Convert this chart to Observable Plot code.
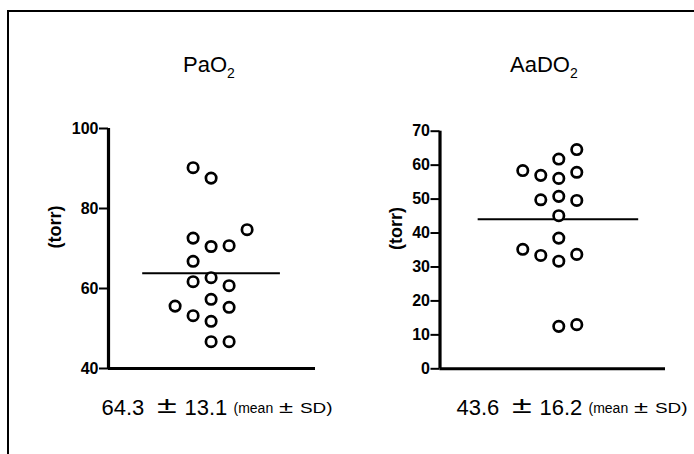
<!DOCTYPE html>
<html>
<head>
<meta charset="utf-8">
<script src="https://cdn.jsdelivr.net/npm/d3@7"></script>
<script src="https://cdn.jsdelivr.net/npm/@observablehq/plot@0.6"></script>
<style>
  html, body { margin: 0; padding: 0; background: #fff; }
  #wrap { position: relative; width: 694px; height: 454px; overflow: hidden; background: #fff; font-family: "Liberation Sans", Arial, sans-serif; color: #000; }
  .frame { position: absolute; left: 7px; top: 10px; width: 720px; height: 480px; border-left: 2px solid #000; border-top: 2px solid #000; }
  .panel { position: absolute; top: 100px; }
  .title { position: absolute; top: 54px; font-size: 22px; line-height: 22px; white-space: nowrap; }
  .title .sub { font-size: 14px; line-height: 0; position: relative; top: 6px; }
  .cap { position: absolute; top: 397px; line-height: 22px; white-space: nowrap; }
  .big { font-size: 22px; }
  .pmbig { display: inline-block; font-size: 24px; line-height: 0; transform: scaleX(1.5); transform-origin: left center; }
  .pmsmall { display: inline-block; font-size: 16px; line-height: 0; transform: scaleX(1.6); transform-origin: left center; }
  .small { font-size: 14px; line-height: 0; }
  .wide { display: inline-block; transform: scaleX(1.35); transform-origin: left center; line-height: 0; }
</style>
</head>
<body>
<div id="wrap">
  <div class="frame"></div>
  <div id="p1" class="panel" style="left:0px"></div>
  <div id="p2" class="panel" style="left:330px"></div>
  <div id="t1" class="title" style="left:183px"></div>
  <div id="t2" class="title" style="left:510px"></div>
  <div id="c1"></div>
  <div id="c2"></div>
</div>
<script>
// ---- data ----
const titles = ["PaO", "AaDO"];
const yLabel = "(torr)";
const paO2 = [90.2, 87.6, 74.7, 72.6, 70.5, 70.7, 66.8, 61.7, 62.7, 60.7, 57.3, 55.6, 55.3, 53.2, 51.8, 46.7, 46.7];
const paO2Col = [-1, 0, 2, -1, 0, 1, -1, -1, 0, 1, 0, -2, 1, -1, 0, 0, 1];
const aaDO2 = [64.6, 61.8, 58.4, 57.0, 56.1, 57.9, 49.8, 50.8, 49.6, 45.1, 38.5, 35.2, 33.4, 31.7, 33.7, 12.5, 13.0];
const aaDO2Col = [1, 0, -2, -1, 0, 1, -1, 0, 1, 0, 0, -2, -1, 0, 1, 0, 1];
const paO2Ticks = [40, 60, 80, 100];
const aaDO2Ticks = [0, 10, 20, 30, 40, 50, 60, 70];
const means = ["64.3", "43.6"];
const sds = ["13.1", "16.2"];
const capNote = ["(mean", "±", "SD)"];

function panel(values, cols, ticks, cfg) {
  const data = values.map((v, i) => ({v, col: cols[i]}));
  const [x0, x1] = cfg.xDomain;
  const yMin = ticks[0], yMax = ticks[ticks.length - 1];
  const m = d3.mean(values);
  return Plot.plot({
    width: cfg.width, height: 290,
    marginLeft: cfg.marginLeft, marginRight: cfg.marginRight,
    marginTop: cfg.marginTop, marginBottom: cfg.marginBottom,
    x: {domain: cfg.xDomain, axis: null},
    y: {domain: [yMin, yMax], axis: null},
    style: {fontFamily: "Liberation Sans, Arial, sans-serif", fontSize: "16px", fontWeight: "bold", background: "transparent", overflow: "visible", color: "#000"},
    marks: [
      Plot.axisY({ticks, tickSize: 9, tickPadding: 1, fontSize: 16, fontWeight: "bold", strokeWidth: 2, label: null}),
      Plot.ruleX([x0], {y1: yMin, y2: yMax, strokeWidth: 3.2, stroke: "#000"}),
      Plot.ruleY([yMin], {x1: x0, x2: x1, strokeWidth: 3, stroke: "#000"}),
      Plot.ruleY([m], {x1: cfg.line[0], x2: cfg.line[1], strokeWidth: 2, stroke: "#000"}),
      Plot.dot(data, {x: "col", y: "v", r: 5.2, stroke: "#000", strokeWidth: 2.7, fill: "#fff"}),
      Plot.text([yLabel], {frameAnchor: "left", rotate: -90, dx: cfg.labelDx, fontSize: 18, fontWeight: "bold", fill: "#000"})
    ]
  });
}

document.getElementById("p1").appendChild(panel(paO2, paO2Col, paO2Ticks, {
  width: 330, marginLeft: 108, marginRight: 15, marginTop: 28, marginBottom: 22,
  xDomain: [-5.7, 5.8], line: [-3.8, 3.85], labelDx: -53
}));
document.getElementById("p2").appendChild(panel(aaDO2, aaDO2Col, aaDO2Ticks, {
  width: 364, marginLeft: 109.5, marginRight: 29, marginTop: 30.7, marginBottom: 21.7,
  xDomain: [-6.6, 5.93], line: [-4.48, 4.44], labelDx: -44
}));

document.getElementById("t1").innerHTML = titles[0] + '<span class="sub">2</span>';
document.getElementById("t2").innerHTML = titles[1] + '<span class="sub">2</span>';

function caption(id, x0, i) {
  const el = document.getElementById(id);
  const parts = [
    {cls: "big", text: means[i], x: 0},
    {cls: "pmbig", text: "±", x: 55},
    {cls: "big", text: sds[i], x: 83},
    {cls: "small", text: capNote[0], x: 132},
    {cls: "pmsmall", text: capNote[1], x: 177},
    {cls: "small wide", text: capNote[2], x: 198}
  ];
  for (const p of parts) {
    const d = document.createElement("div");
    d.className = "cap";
    d.style.left = (x0 + p.x) + "px";
    const s = document.createElement("span");
    s.className = p.cls;
    s.textContent = p.text;
    d.appendChild(s);
    el.appendChild(d);
  }
}
caption("c1", 101.5, 0);
caption("c2", 456.5, 1);
</script>
</body>
</html>
